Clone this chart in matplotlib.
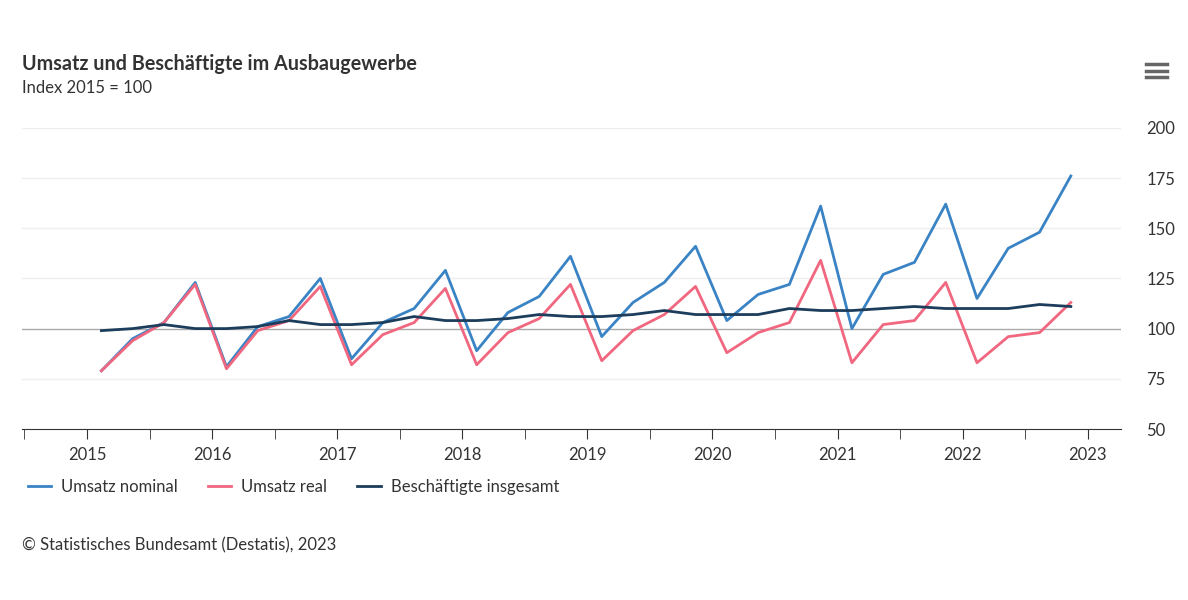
import matplotlib
matplotlib.use('Agg')
import matplotlib.pyplot as plt
from matplotlib.lines import Line2D
import numpy as np

plt.rcParams['font.family'] = ['Lato', 'DejaVu Sans']

# quarterly values 2015 Q1 .. 2022 Q4
nominal = [79, 95, 103, 123, 81, 101, 106, 125, 85, 103, 110, 129, 89, 108, 116, 136,
           96, 113, 123, 141, 104, 117, 122, 161, 100, 127, 133, 162, 115, 140, 148, 176]
real = [79, 94, 103, 122, 80, 99, 104, 121, 82, 97, 103, 120, 82, 98, 105, 122,
        84, 99, 107, 121, 88, 98, 103, 134, 83, 102, 104, 123, 83, 96, 98, 113]
employees = [99, 100, 102, 100, 100, 101, 104, 102, 102, 103, 106, 104, 104, 105, 107, 106,
             106, 107, 109, 107, 107, 107, 110, 109, 109, 110, 111, 110, 110, 110, 112, 111]
years = list(range(2015, 2024))
x = 2015 + 0.115 + 0.25 * np.arange(len(nominal))

c_nom, c_real, c_emp = '#3a83c4', '#f0677f', '#1c3d5c'

fig = plt.figure(figsize=(11.88, 6), dpi=100)
ax = fig.add_axes([0.0185, 0.285, 0.9255, 0.502])
for v in [75, 125, 150, 175, 200]:
    ax.axhline(v, color='#eeeeee', lw=1, zorder=0)
ax.axhline(100, color='#aaaaaa', lw=1, zorder=1)
ax.plot(x, nominal, color=c_nom, lw=2, zorder=3)
ax.plot(x, real, color=c_real, lw=2, zorder=3)
ax.plot(x, employees, color=c_emp, lw=2, zorder=4)

ax.set_xlim(2014.48, 2023.27)
ax.set_ylim(50, 200)
ax.set_yticks([50, 75, 100, 125, 150, 175, 200])
ax.yaxis.tick_right()
ax.tick_params(axis='y', length=0, labelsize=12, colors='#333333', pad=18)
ax.set_xticks(years)
ax.set_xticks(np.arange(2014.5, 2023.3, 1.0), minor=True)
ax.tick_params(axis='x', which='both', length=7, color='#333333', labelsize=12,
               labelcolor='#333333', pad=6)
for s in ['top', 'left', 'right']:
    ax.spines[s].set_visible(False)
ax.spines['bottom'].set_color('#333333')

fig.text(0.0185, 0.883, 'Umsatz und Beschäftigte im Ausbaugewerbe', fontsize=14.2,
         fontweight='bold', color='#333333')
fig.text(0.0185, 0.845, 'Index 2015 = 100', fontsize=12, color='#333333')

handles = [Line2D([], [], color=c, lw=2) for c in (c_nom, c_real, c_emp)]
fig.legend(handles, ['Umsatz nominal', 'Umsatz real', 'Beschäftigte insgesamt'],
           loc='lower left', bbox_to_anchor=(0.011, 0.15), ncol=3, frameon=False,
           fontsize=12, handlelength=1.4, handletextpad=0.6, columnspacing=1.8,
           labelcolor='#333333')
fig.text(0.0185, 0.083, '© Statistisches Bundesamt (Destatis), 2023', fontsize=12,
         color='#333333')
# menu icon
for dy in [0, 0.011, 0.022]:
    fig.add_artist(Line2D([0.965, 0.982], [0.893 - dy, 0.893 - dy], color='#666666', lw=2.5))

fig.savefig('out.png', dpi=100)
